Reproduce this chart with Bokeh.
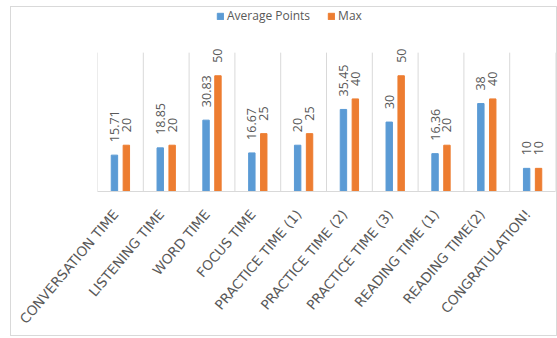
from bokeh.plotting import figure
from bokeh.models import (ColumnDataSource, FixedTicker, Legend, LegendItem, Range1d)
from bokeh.transform import dodge
from bokeh.core.properties import value
from bokeh.embed import file_html
from bokeh.resources import INLINE
import math

categories = ["CONVERSATION TIME", "LISTENING TIME", "WORD TIME", "FOCUS TIME",
              "PRACTICE TIME (1)", "PRACTICE TIME (2)", "PRACTICE TIME (3)",
              "READING TIME (1)", "READING TIME(2)", "CONGRATULATION!"]
average_points = [15.71, 18.85, 30.83, 16.67, 20, 35.45, 30, 16.36, 38, 10]
max_points = [20, 20, 50, 25, 25, 40, 50, 20, 40, 10]
axis_max = 60          # value axis maximum (top of the gridlines)
headroom_max = 79.5    # extra room above for the legend

BLUE = "#5b9bd5"
ORANGE = "#ed7d31"
GRAY_TEXT = "#595959"
GRID = "#d9d9d9"
LABEL_SHIFT = 0.11     # category labels sit slightly left of the category centre

n = len(categories)
pos = [i + 0.5 for i in range(n)]
src = ColumnDataSource(dict(
    x=pos,
    avg=average_points,
    mx=max_points,
    avg_lbl=["{:g}".format(v) for v in average_points],
    mx_lbl=["{:g}".format(v) for v in max_points],
))

p = figure(width=547, height=330, output_backend="svg", toolbar_location=None,
           x_range=Range1d(0, n), y_range=Range1d(0, headroom_max),
           min_border_left=86, min_border_right=3, min_border_top=0, min_border_bottom=146)
p.margin = (6, 0, 0, 10)
p.styles = {"border": "1px solid #d9d9d9"}
p.outline_line_color = None
p.background_fill_color = "white"
p.border_fill_color = "white"

# vertical category separators up to the axis maximum
bounds = list(range(n + 1))
p.segment(x0=bounds, x1=bounds, y0=[0] * (n + 1), y1=[axis_max] * (n + 1),
          line_color=GRID, line_width=1)

r_avg = p.vbar(x=dodge("x", -0.13, range=p.x_range), top="avg", width=0.14,
               source=src, color=BLUE)
r_max = p.vbar(x=dodge("x", 0.13, range=p.x_range), top="mx", width=0.14,
               source=src, color=ORANGE)

for col, lbl, off in (("avg", "avg_lbl", -0.13), ("mx", "mx_lbl", 0.13)):
    p.text(x=dodge("x", off, range=p.x_range), y=col, text=lbl, source=src,
           angle=math.pi / 2, text_align="left", text_baseline="middle",
           y_offset=-13, text_font=value("Open Sans"), text_font_size="12.5px",
           text_color=GRAY_TEXT)

# axes
p.yaxis.visible = False
p.xgrid.visible = False
p.ygrid.visible = False
xa = p.xaxis[0]
tick_pos = [v - LABEL_SHIFT for v in pos]
xa.ticker = FixedTicker(ticks=tick_pos)
xa.major_label_overrides = {tv: c for tv, c in zip(tick_pos, categories)}
xa.major_label_orientation = 0.87
xa.major_label_text_font = "DejaVu Sans"
xa.major_label_text_font_size = "13.5px"
xa.major_label_text_color = GRAY_TEXT
xa.major_tick_line_color = None
xa.minor_tick_line_color = None
xa.axis_line_color = GRID
xa.major_label_standoff = 14

legend = Legend(items=[LegendItem(label="Average Points", renderers=[r_avg]),
                       LegendItem(label="Max", renderers=[r_max])],
                orientation="horizontal", location=(119, 166.7),
                glyph_width=8, glyph_height=8, label_standoff=3, spacing=17,
                padding=0, margin=0, border_line_color=None,
                background_fill_alpha=0, label_text_font="Open Sans",
                label_text_font_size="12px", label_text_color=GRAY_TEXT,
                label_height=16)
p.add_layout(legend, "center")

open("out.html", "w").write(file_html(p, INLINE))
